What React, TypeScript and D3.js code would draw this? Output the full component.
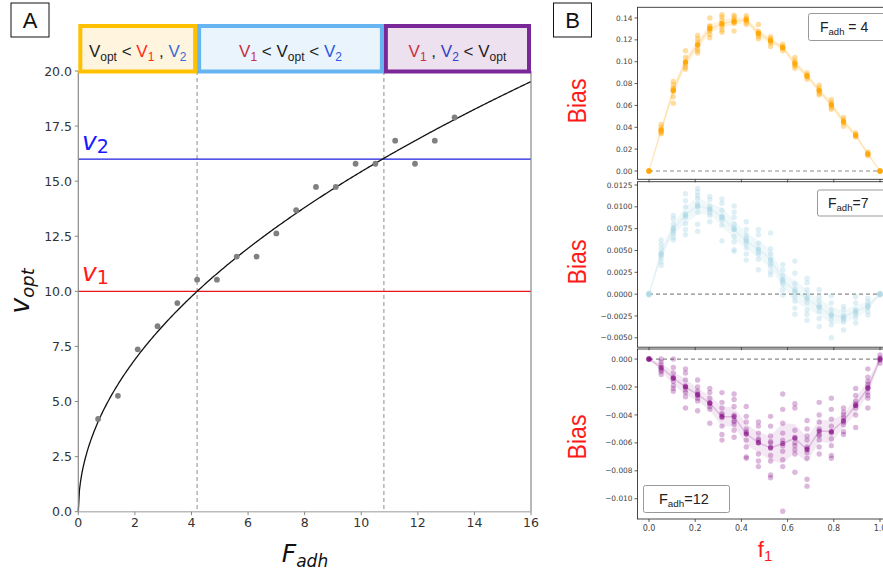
import React from 'react';
import * as d3 from 'd3';

// ---------- Panel A data ----------
const F_ADH = [0.7, 1.4, 2.1, 2.8, 3.5, 4.2, 4.9, 5.6, 6.3, 7.0, 7.7, 8.4, 9.1, 9.8, 10.5, 11.2, 11.9, 12.6, 13.3];
const V_OPT = [4.21, 5.26, 7.37, 8.42, 9.47, 10.53, 10.53, 11.58, 11.58, 12.63, 13.68, 14.74, 14.74, 15.79, 15.79, 16.84, 15.79, 16.84, 17.89];
const X_TICKS_A = [0, 2, 4, 6, 8, 10, 12, 14, 16];
const Y_TICKS_A = [0, 2.5, 5, 7.5, 10, 12.5, 15, 17.5, 20];
const V1 = 10;
const V2 = 16;
const F_CROSS = [4.2, 10.8];
const FIT_COEF = 4.88;
const FIT_EXP = 0.5;

// ---------- Panel B data ----------
const F1 = [0, 0.0526, 0.1053, 0.1579, 0.2105, 0.2632, 0.3158, 0.3684, 0.4211, 0.4737, 0.5263, 0.5789, 0.6316, 0.6842, 0.7368, 0.7895, 0.8421, 0.8947, 0.9474, 1];
const X_TICKS_B = [0, 0.2, 0.4, 0.6, 0.8, 1.0];

const BIAS_F4 = [
  [0, 0, 0, 0],
  [0.0425, 0.040, 0.038, 0.037, 0.036, 0.035, 0.034],
  [0.082, 0.079, 0.076, 0.075, 0.074, 0.073, 0.068, 0.062],
  [0.110, 0.104, 0.100, 0.099, 0.097, 0.095, 0.093],
  [0.124, 0.121, 0.118, 0.116, 0.115, 0.112, 0.110, 0.108],
  [0.140, 0.133, 0.132, 0.131, 0.130, 0.128, 0.125, 0.122],
  [0.143, 0.141, 0.138, 0.135, 0.134, 0.132, 0.129, 0.127],
  [0.1425, 0.141, 0.139, 0.137, 0.136, 0.135, 0.128],
  [0.142, 0.140, 0.139, 0.138, 0.136, 0.134],
  [0.134, 0.128, 0.126, 0.125, 0.123, 0.121],
  [0.123, 0.121, 0.120, 0.119, 0.117, 0.114],
  [0.116, 0.114, 0.113, 0.112, 0.110],
  [0.104, 0.101, 0.099, 0.097, 0.096, 0.094],
  [0.090, 0.088, 0.087, 0.086, 0.084],
  [0.0785, 0.076, 0.074, 0.073, 0.071, 0.0695],
  [0.0655, 0.063, 0.061, 0.060, 0.058, 0.0565],
  [0.049, 0.047, 0.045, 0.044, 0.041],
  [0.035, 0.033, 0.032, 0.031],
  [0.0175, 0.016, 0.015, 0.014],
  [0, 0, 0, 0],
];

const BIAS_F7 = [
  [0.0001, 0, -0.0001, 0],
  [0.0062, 0.0057, 0.0052, 0.0047, 0.0045, 0.0044, 0.0041, 0.0037, 0.0033],
  [0.0090, 0.0086, 0.0080, 0.0076, 0.0073, 0.0071, 0.0069, 0.0065, 0.0062],
  [0.0115, 0.0107, 0.0100, 0.0092, 0.0090, 0.0088, 0.0081, 0.0074, 0.0068],
  [0.0121, 0.0117, 0.0113, 0.0110, 0.0104, 0.0101, 0.0100, 0.0094, 0.0080, 0.0072],
  [0.0112, 0.0108, 0.0101, 0.0098, 0.0096, 0.0093, 0.0090, 0.0083],
  [0.0109, 0.0104, 0.0096, 0.0089, 0.0087, 0.0085, 0.0079, 0.0061],
  [0.0101, 0.0094, 0.0088, 0.0080, 0.0076, 0.0074, 0.0066, 0.0060, 0.0051, 0.0049],
  [0.0083, 0.0074, 0.0068, 0.0064, 0.0062, 0.0058, 0.0053, 0.0046, 0.0039],
  [0.0074, 0.0068, 0.0058, 0.0051, 0.0048, 0.0046, 0.0040, 0.0028],
  [0.0070, 0.0052, 0.0046, 0.0038, 0.0035, 0.0032, 0.0026, 0.0022],
  [0.0034, 0.0028, 0.0022, 0.0017, 0.0014, 0.0011, 0.0005, -0.0001],
  [0.0038, 0.0024, 0.0012, 0.0006, 0.0002, -0.0003, -0.0008, -0.0016, -0.0023],
  [0.0018, 0.0013, 0.0005, -0.0001, -0.0004, -0.0010, -0.0018, -0.0023, -0.0030],
  [0.0005, -0.0003, -0.0008, -0.0013, -0.0015, -0.0020, -0.0028, -0.0037],
  [-0.0002, -0.0010, -0.0018, -0.0023, -0.0025, -0.0029, -0.0035, -0.0050],
  [-0.0014, -0.0018, -0.0024, -0.0027, -0.0029, -0.0032, -0.0041],
  [-0.0003, -0.0010, -0.0018, -0.0021, -0.0023, -0.0027, -0.0033],
  [-0.0005, -0.0009, -0.0012, -0.0014, -0.0016, -0.0020, -0.0024],
  [0.0001, 0, -0.0001, 0],
];

const BIAS_F12 = [
  [0, 0, 0, 0],
  [0, -0.0002, -0.0004, -0.0007, -0.0008, -0.0009, -0.0011],
  [0, -0.0006, -0.0010, -0.0013, -0.0014, -0.0016, -0.0019, -0.0021, -0.0023],
  [-0.0007, -0.0010, -0.0015, -0.0019, -0.0020, -0.0022, -0.0024, -0.0027, -0.0035],
  [-0.0015, -0.0020, -0.0023, -0.0025, -0.0026, -0.0028, -0.0030, -0.0037],
  [-0.0021, -0.0024, -0.0028, -0.0031, -0.0032, -0.0034, -0.0036, -0.0046],
  [-0.0024, -0.0031, -0.0035, -0.0039, -0.0040, -0.0042, -0.0048, -0.0054, -0.0058],
  [-0.0025, -0.0029, -0.0034, -0.0040, -0.0044, -0.0045, -0.0047, -0.0051, -0.0056],
  [-0.0034, -0.0041, -0.0045, -0.0050, -0.0052, -0.0053, -0.0058, -0.0063, -0.0070, -0.0071],
  [-0.0045, -0.0048, -0.0053, -0.0057, -0.0058, -0.0060, -0.0068, -0.0073, -0.0077],
  [-0.0041, -0.0048, -0.0055, -0.0059, -0.0060, -0.0063, -0.0069, -0.0073, -0.0083, -0.0085],
  [-0.0025, -0.0036, -0.0046, -0.0053, -0.0058, -0.0062, -0.0066, -0.0072, -0.0077, -0.0109],
  [-0.0032, -0.0035, -0.0051, -0.0056, -0.0060, -0.0062, -0.0065, -0.0068, -0.0081],
  [-0.0044, -0.0050, -0.0055, -0.0058, -0.0063, -0.0064, -0.0067, -0.0071, -0.0086, -0.0091],
  [-0.0031, -0.0040, -0.0045, -0.0050, -0.0054, -0.0055, -0.0058, -0.0063, -0.0068],
  [-0.0028, -0.0036, -0.0043, -0.0048, -0.0052, -0.0053, -0.0057, -0.0062, -0.0069, -0.0071],
  [-0.0035, -0.0038, -0.0040, -0.0042, -0.0045, -0.0047, -0.0052, -0.0054],
  [-0.0021, -0.0026, -0.0030, -0.0032, -0.0033, -0.0035, -0.0040, -0.0049],
  [-0.0007, -0.0013, -0.0016, -0.0018, -0.0020, -0.0021, -0.0024, -0.0026, -0.0028, -0.0035],
  [0.0003, 0.0001, 0, -0.0001, -0.0003],
];

const TICKS_F4 = [0, 0.02, 0.04, 0.06, 0.08, 0.10, 0.12, 0.14];
const TICKS_F7 = [-0.005, -0.0025, 0, 0.0025, 0.005, 0.0075, 0.01, 0.0125];
const TICKS_F12 = [-0.010, -0.008, -0.006, -0.004, -0.002, 0];

const W = 883;
const H = 572;
const SANS = '"Liberation Sans", Arial, Helvetica, sans-serif';
const DEJA = '"DejaVu Sans", sans-serif';

type SubProps = {
  values: number[][];
  color: string;
  top: number;
  bottom: number;
  domain: [number, number];
  ticks: number[];
  fmt: string;
  ptOpacity: number;
  bandOpacity: number;
  meanOpacity: number;
  showXLabels: boolean;
  legend: { x: number; y: number; w: number; h: number; tx: number; ty: number; rest: string; size: number };
  biasY: number;
};

const XL = 637.5;
const XR = 891.5;
const xB = d3.scaleLinear().domain([0, 1]).range([649, 880]);

function SubPlot(p: SubProps) {
  const y = d3.scaleLinear().domain(p.domain).range([p.bottom, p.top]);
  const stats = p.values.map((vals, i) => {
    const m = d3.mean(vals) as number;
    const sd = d3.deviation(vals) || 0;
    const ci = (1.96 * sd) / Math.sqrt(vals.length);
    return { f: F1[i], m, lo: m - ci, hi: m + ci };
  });
  const area = d3
    .area<any>()
    .x((d) => xB(d.f))
    .y0((d) => y(d.lo))
    .y1((d) => y(d.hi));
  const line = d3
    .line<any>()
    .x((d) => xB(d.f))
    .y((d) => y(d.m));
  const fmt = d3.format(p.fmt);
  const clipId = 'clip' + Math.round(p.top);
  return (
    <g>
      <defs>
        <clipPath id={clipId}>
          <rect x={XL} y={p.top} width={XR - XL} height={p.bottom - p.top} />
        </clipPath>
      </defs>
      <g clipPath={`url(#${clipId})`}>
        <path d={area(stats) || ''} fill={p.color} opacity={p.bandOpacity} />
        <path d={line(stats) || ''} fill="none" stroke={p.color} strokeWidth={1.5} opacity={0.2} />
        <line x1={xB(0)} x2={xB(1)} y1={y(0)} y2={y(0)} stroke="#8a8a8a" strokeWidth={1.2} strokeDasharray="4,3" />
        {p.values.map((vals, i) =>
          vals.map((v, j) => (
            <circle key={i + '-' + j} cx={xB(F1[i])} cy={y(v)} r={2.7} fill={p.color} opacity={p.ptOpacity} />
          ))
        )}
        {stats.map((s, i) => (
          <circle key={'m' + i} cx={xB(s.f)} cy={y(s.m)} r={2.6} fill={p.color} opacity={p.meanOpacity} />
        ))}
      </g>
      <rect x={XL} y={p.top} width={XR - XL} height={p.bottom - p.top} fill="none" stroke="#333" strokeWidth={0.9} />
      {p.ticks.map((t) => (
        <g key={t}>
          <line x1={XL - 3} x2={XL} y1={y(t)} y2={y(t)} stroke="#333" strokeWidth={0.8} />
          <text x={XL - 5} y={y(t) + 2.6} fontSize={7.4} fontFamily={DEJA} fill="#444" textAnchor="end">
            {fmt(t)}
          </text>
        </g>
      ))}
      {X_TICKS_B.map((t) => (
        <g key={'x' + t}>
          <line x1={xB(t)} x2={xB(t)} y1={p.bottom} y2={p.bottom + 3} stroke="#333" strokeWidth={0.8} />
          {p.showXLabels && (
            <text x={xB(t)} y={p.bottom + 12} fontSize={8} fontFamily={DEJA} fill="#444" textAnchor="middle">
              {d3.format('.1f')(t)}
            </text>
          )}
        </g>
      ))}
      <rect x={p.legend.x} y={p.legend.y} width={p.legend.w} height={p.legend.h} rx={2} fill="white" stroke="#999" strokeWidth={1} />
      <text x={p.legend.tx} y={p.legend.ty} fontFamily={SANS} fontSize={p.legend.size} fill="#222" style={{ whiteSpace: 'pre' }}>
        <tspan>F</tspan>
        <tspan fontSize={p.legend.size * 0.68} dy={3}>adh</tspan>
        <tspan dy={-3}>{p.legend.rest}</tspan>
      </text>
      <text
        transform={`translate(586,${p.biasY}) rotate(-90)`}
        textAnchor="middle"
        fontFamily={SANS}
        fontSize={26}
        fill="#ff1a1a"
        textLength={45}
        lengthAdjust="spacingAndGlyphs"
      >
        Bias
      </text>
    </g>
  );
}

export default function App() {
  const xA = d3.scaleLinear().domain([0, 16]).range([78.3, 531]);
  const yA = d3.scaleLinear().domain([0, 20]).range([511.7, 71]);
  const fitPts = d3.range(0, 16.001, 0.04).map((f) => [f, FIT_COEF * Math.pow(f, FIT_EXP)] as [number, number]);
  const fitLine = d3
    .line<[number, number]>()
    .x((d) => xA(d[0]))
    .y((d) => yA(d[1]));

  const boxTop = 26;
  const boxBot = 71.5;
  const boxes = [
    { x0: 0, x1: F_CROSS[0], stroke: '#FFC000', fill: '#FFF5DF' },
    { x0: F_CROSS[0], x1: F_CROSS[1], stroke: '#66B4F0', fill: '#E9F4FD' },
    { x0: F_CROSS[1], x1: 16, stroke: '#7A2898', fill: '#EDE0EF' },
  ];
  const sub = 12;
  const textY = 57;
  const dark = '#222';

  return (
    <svg width={W} height={H} style={{ position: 'absolute', left: 0, top: 0, background: 'white' }} xmlns="http://www.w3.org/2000/svg">
      <rect x={0} y={0} width={W} height={H} fill="white" />
      {/* ---------- Panel A ---------- */}
      <rect x={11} y={3} width={38} height={34} fill="white" stroke="#111" strokeWidth={1} />
      <text x={30} y={28} textAnchor="middle" fontFamily={SANS} fontSize={22} fill="#111">A</text>

      {F_CROSS.map((f) => (
        <line key={f} x1={xA(f)} x2={xA(f)} y1={yA(20)} y2={yA(0)} stroke="#a8a8a8" strokeWidth={1.3} strokeDasharray="4,3" />
      ))}
      <line x1={xA(0)} x2={xA(16)} y1={yA(V1)} y2={yA(V1)} stroke="#e8141a" strokeWidth={1.2} />
      <line x1={xA(0)} x2={xA(16)} y1={yA(V2)} y2={yA(V2)} stroke="#1c1ce0" strokeWidth={1.2} />
      <path d={fitLine(fitPts) || ''} fill="none" stroke="#111" strokeWidth={1.3} />
      {F_ADH.map((f, i) => (
        <circle key={i} cx={xA(f)} cy={yA(V_OPT[i])} r={2.9} fill="#808080" />
      ))}

      {/* spines */}
      <line x1={xA(0)} x2={xA(0)} y1={yA(20)} y2={yA(0)} stroke="#888" strokeWidth={1.2} />
      <line x1={xA(16)} x2={xA(16)} y1={yA(20)} y2={yA(0)} stroke="#888" strokeWidth={1.2} />
      <line x1={xA(0)} x2={xA(16)} y1={yA(0)} y2={yA(0)} stroke="#bbb" strokeWidth={1.5} />
      {Y_TICKS_A.map((t) => (
        <g key={t}>
          <line x1={xA(0) - 3.5} x2={xA(0)} y1={yA(t)} y2={yA(t)} stroke="#888" strokeWidth={1} />
          <text x={72} y={yA(t) + 4.5} textAnchor="end" fontFamily={DEJA} fontSize={12.5} fill="#333">
            {d3.format('.1f')(t)}
          </text>
        </g>
      ))}
      {X_TICKS_A.map((t) => (
        <g key={'x' + t}>
          <line x1={xA(t)} x2={xA(t)} y1={yA(0)} y2={yA(0) + 3.5} stroke="#888" strokeWidth={1} />
          <text x={xA(t)} y={527} textAnchor="middle" fontFamily={DEJA} fontSize={12.5} fill="#333">
            {t}
          </text>
        </g>
      ))}

      {/* v1 v2 labels */}
      <text x={82} y={281} fontFamily={DEJA} fontStyle="italic" fontSize={25} fill="#ff1a1a">
        v<tspan fontStyle="normal" fontSize={19} dy={3}>1</tspan>
      </text>
      <text x={82} y={150} fontFamily={DEJA} fontStyle="italic" fontSize={25} fill="#1a1aff">
        v<tspan fontStyle="normal" fontSize={19} dy={3}>2</tspan>
      </text>

      {/* axis titles */}
      <text transform="translate(29,291) rotate(-90)" textAnchor="middle" fontFamily={DEJA} fontStyle="italic" fontSize={27} fill="#111">
        v<tspan fontSize={18} dy={5}>opt</tspan>
      </text>
      <text x={305} y={562} textAnchor="middle" fontFamily={DEJA} fontStyle="italic" fontSize={25} fill="#111">
        F<tspan fontSize={17} dy={5}>adh</tspan>
      </text>

      {/* header boxes */}
      {boxes.map((b, i) => (
        <rect
          key={i}
          x={xA(b.x0) + 2}
          y={boxTop}
          width={xA(b.x1) - xA(b.x0) - 4}
          height={boxBot - boxTop}
          fill={b.fill}
          stroke={b.stroke}
          strokeWidth={4}
        />
      ))}
      <text x={(xA(0) + xA(F_CROSS[0])) / 2} y={textY} textAnchor="middle" fontFamily={SANS} fontSize={17} fill={dark} style={{ whiteSpace: 'pre' }}>
        <tspan>V</tspan>
        <tspan fontSize={sub} dy={4}>opt</tspan>
        <tspan dy={-4}>{' < '}</tspan>
        <tspan fill="#ff2a1a">V</tspan>
        <tspan fill="#ff2a1a" fontSize={sub} dy={4}>1</tspan>
        <tspan dy={-4}>{' , '}</tspan>
        <tspan fill="#3a68d8">V</tspan>
        <tspan fill="#3a68d8" fontSize={sub} dy={4}>2</tspan>
      </text>
      <text x={(xA(F_CROSS[0]) + xA(F_CROSS[1])) / 2} y={textY} textAnchor="middle" fontFamily={SANS} fontSize={17} fill={dark} style={{ whiteSpace: 'pre' }}>
        <tspan fill="#c8303e">V</tspan>
        <tspan fill="#c8303e" fontSize={sub} dy={4}>1</tspan>
        <tspan dy={-4}>{' < '}</tspan>
        <tspan>V</tspan>
        <tspan fontSize={sub} dy={4}>opt</tspan>
        <tspan dy={-4}>{' < '}</tspan>
        <tspan fill="#2a58e0">V</tspan>
        <tspan fill="#2a58e0" fontSize={sub} dy={4}>2</tspan>
      </text>
      <text x={(xA(F_CROSS[1]) + xA(16)) / 2} y={textY} textAnchor="middle" fontFamily={SANS} fontSize={17} fill={dark} style={{ whiteSpace: 'pre' }}>
        <tspan fill="#c8303e">V</tspan>
        <tspan fill="#c8303e" fontSize={sub} dy={4}>1</tspan>
        <tspan dy={-4}>{' , '}</tspan>
        <tspan fill="#3040c8">V</tspan>
        <tspan fill="#3040c8" fontSize={sub} dy={4}>2</tspan>
        <tspan dy={-4}>{' < '}</tspan>
        <tspan>V</tspan>
        <tspan fontSize={sub} dy={4}>opt</tspan>
      </text>

      {/* ---------- Panel B ---------- */}
      <rect x={553.5} y={3} width={38} height={34} fill="white" stroke="#111" strokeWidth={1} />
      <text x={572.5} y={28} textAnchor="middle" fontFamily={SANS} fontSize={22} fill="#111">B</text>

      <SubPlot
        values={BIAS_F4}
        color="#FFA500"
        top={7.3}
        bottom={179.3}
        domain={[-0.0076, 0.1498]}
        ticks={TICKS_F4}
        fmt=".2f"
        ptOpacity={0.38}
        bandOpacity={0.13}
        meanOpacity={0.8}
        showXLabels={false}
        legend={{ x: 808.5, y: 13.5, w: 90, h: 27, tx: 820, ty: 32, rest: ' = 4', size: 14 }}
        biasY={101}
      />
      <SubPlot
        values={BIAS_F7}
        color="#ADD8E6"
        top={181.7}
        bottom={347.2}
        domain={[-0.00608, 0.01288]}
        ticks={TICKS_F7}
        fmt=".4f"
        ptOpacity={0.4}
        bandOpacity={0.18}
        meanOpacity={0.6}
        showXLabels={false}
        legend={{ x: 817.5, y: 190, w: 80, h: 26, tx: 828, ty: 208, rest: '=7', size: 14 }}
        biasY={262}
      />
      <SubPlot
        values={BIAS_F12}
        color="#800080"
        top={349}
        bottom={519}
        domain={[-0.01145, 0.00072]}
        ticks={TICKS_F12}
        fmt=".3f"
        ptOpacity={0.28}
        bandOpacity={0.09}
        meanOpacity={0.55}
        showXLabels={true}
        legend={{ x: 643.5, y: 485.5, w: 86, h: 27, tx: 659, ty: 504, rest: '=12', size: 14.5 }}
        biasY={437}
      />
      <text x={765} y={557} textAnchor="middle" fontFamily={SANS} fontSize={22} fill="#ff1a1a">
        f<tspan fontSize={15} dy={4}>1</tspan>
      </text>
    </svg>
  );
}
